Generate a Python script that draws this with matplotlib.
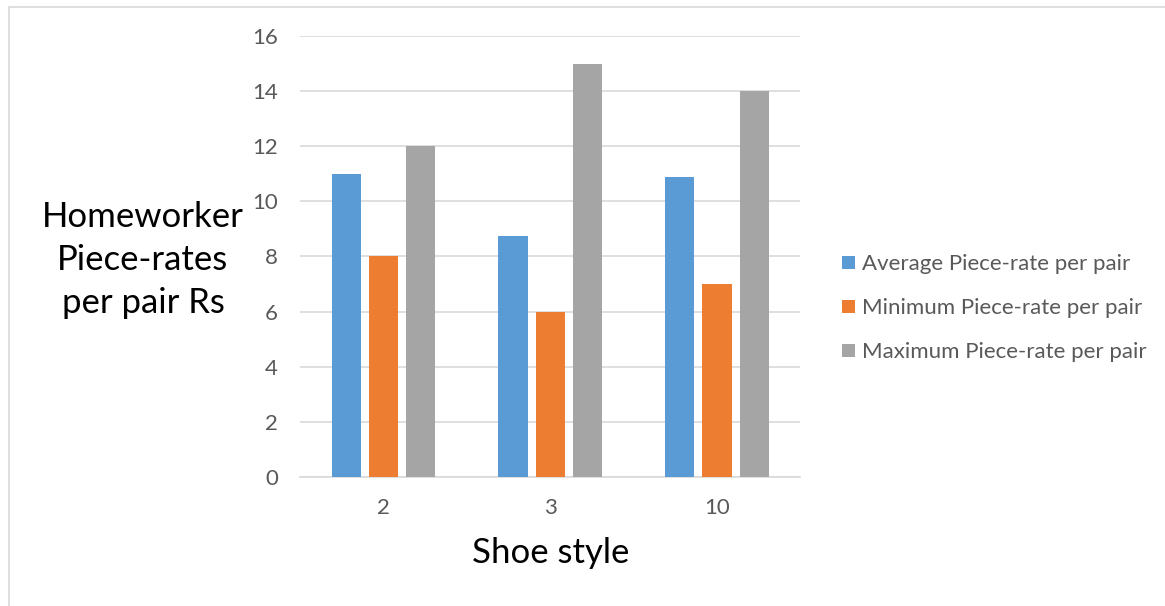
import matplotlib
matplotlib.use("Agg")
import matplotlib.pyplot as plt
import numpy as np
from matplotlib.patches import Rectangle

# Piece-rate figures by shoe style
styles = ["2", "3", "10"]
avg_rate = [11, 8.75, 10.9]
min_rate = [8, 6, 7]
max_rate = [12, 15, 14]
series_names = ["Average Piece-rate per pair",
                "Minimum Piece-rate per pair",
                "Maximum Piece-rate per pair"]
yticks = [0, 2, 4, 6, 8, 10, 12, 14, 16]

plt.rcParams["font.family"] = ["Lato", "DejaVu Sans"]

fig = plt.figure(figsize=(11.65, 6.06), dpi=100)
ax = fig.add_axes([0.2575, 0.2129, 0.4295, 0.7277])

# light frame around the whole chart
fig.patches.append(Rectangle((9 / 1165, -0.05), 1.1, 1 - 7 / 606 + 0.05,
                             transform=fig.transFigure, fill=False,
                             edgecolor="#d9d9d9", linewidth=1.2))

x = np.arange(len(styles))
w = 0.175
step = 0.223
colors = ["#5b9bd5", "#ed7d31", "#a5a5a5"]
for i, (vals, name) in enumerate(zip([avg_rate, min_rate, max_rate], series_names)):
    ax.bar(x + (i - 1) * step, vals, w, color=colors[i], label=name, zorder=3)

ax.set_xlim(-0.5, 2.5)
ax.set_ylim(0, 16)
ax.set_yticks(yticks)
ax.set_xticks(x)
ax.set_xticklabels(styles)
ax.yaxis.grid(True, color="#d9d9d9", linewidth=1.2, zorder=0)
for s in ["top", "right", "left"]:
    ax.spines[s].set_visible(False)
ax.spines["bottom"].set_color("#d9d9d9")
ax.spines["bottom"].set_linewidth(1.2)
ax.tick_params(axis="both", length=0, labelsize=16, labelcolor="#595959")
ax.tick_params(axis="y", pad=16)
ax.tick_params(axis="x", pad=15)

fig.text(551 / 1165, 1 - 553 / 606, "Shoe style", fontsize=25,
         ha="center", va="center")
fig.text(143 / 1165, 1 - 260 / 606, "Homeworker\nPiece-rates\nper pair Rs",
         fontsize=25, ha="center", va="center", linespacing=1.42)

leg = ax.legend(loc="center left", bbox_to_anchor=(1.044, 0.383), frameon=False,
                fontsize=16, handlelength=0.55, handleheight=0.55,
                handletextpad=0.32, labelspacing=1.08)
for t in leg.get_texts():
    t.set_color("#595959")

fig.savefig("out.png", dpi=100)
